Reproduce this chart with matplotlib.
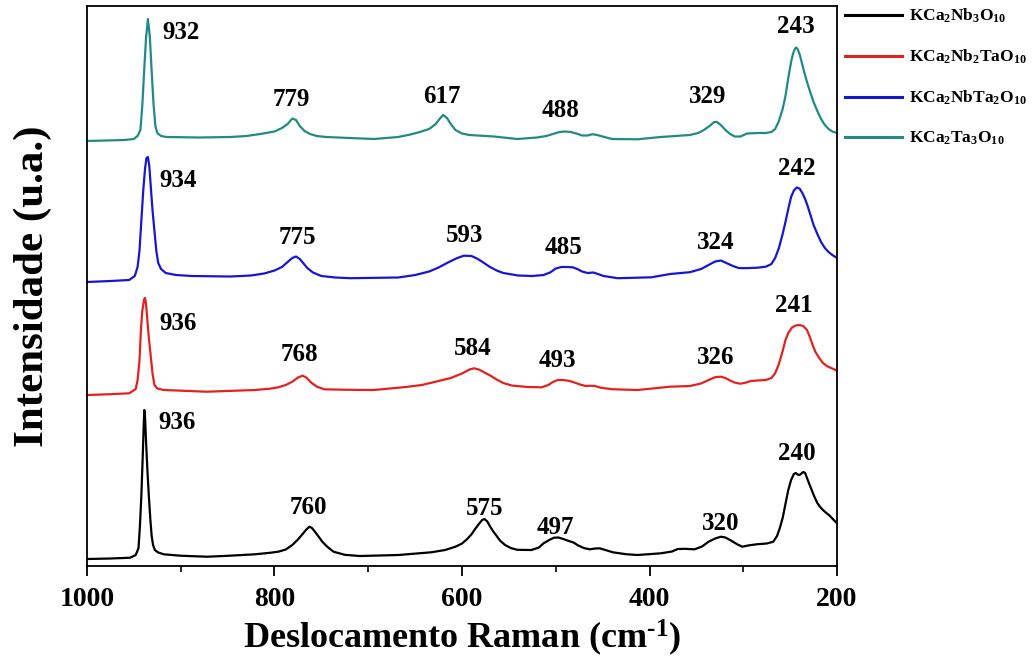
import matplotlib
matplotlib.use("Agg")
import matplotlib.pyplot as plt
from matplotlib.ticker import MultipleLocator

plt.rcParams['font.family'] = ['Liberation Serif', 'DejaVu Serif']
plt.rcParams['font.weight'] = 'bold'
plt.rcParams['mathtext.fontset'] = 'custom'
plt.rcParams['mathtext.rm'] = 'Liberation Serif:bold'
plt.rcParams['mathtext.bf'] = 'Liberation Serif:bold'
plt.rcParams['mathtext.it'] = 'Liberation Serif:bold'
plt.rcParams['mathtext.default'] = 'bf'

# ---- data (Raman shift in cm-1, intensity in arbitrary offset units) ----
wn_ta3 = [1000, 980, 960, 950, 946, 943, 941, 939, 937, 935, 933, 931, 929, 927, 925, 921, 915, 880,
          847, 830, 815, 800, 792, 786, 781, 777, 773, 768, 762, 755, 745, 720, 694, 668, 655, 645,
          635, 628, 624, 620, 616, 612, 607, 600, 592, 566, 541, 520, 510, 503, 496, 490, 484, 478,
          472, 466, 461, 456, 450, 440, 413, 388, 357, 348, 342, 336, 331, 328, 324, 319, 314, 309,
          303, 296, 285, 276, 270, 266, 262, 258, 255, 252, 249, 247, 245, 243.5, 242, 240, 238, 235,
          232, 229, 225, 221, 217, 213, 209, 205, 200]
int_ta3 = [425, 425.5, 426, 427, 430, 436, 460, 495, 528, 547, 530, 495, 462, 440, 433, 430, 429, 428.5,
           429, 430, 432, 434.5, 438, 442, 447.5, 446, 440, 435, 432, 430, 429, 428, 427, 429, 431.5, 434,
           437, 442, 447, 451, 448, 442, 436, 432.5, 431, 429.5, 427, 428.5, 430, 432, 434, 434.5, 434, 432.5,
           430.5, 430.5, 431.8, 431, 429.5, 427, 426.7, 429, 431, 433, 436, 440, 444, 444, 441, 436, 432, 429.5,
           429.5, 432.5, 433, 433, 434, 437, 445, 457, 470, 488, 504, 512, 517, 518.5, 517, 512, 505, 494,
           484, 475, 464, 455, 447, 441, 437, 434.5, 433]

wn_nbta2 = [1000, 975, 955, 949, 946, 944, 942, 940, 938, 936.5, 935, 933.5, 932, 930, 928, 926, 924, 921,
            916, 905, 888, 847, 825, 811, 800, 792, 786, 781, 777, 773, 769, 765, 759, 750, 735, 719,
            668, 650, 635, 625, 615, 605, 598, 590, 584, 578, 571, 563, 556, 540, 525, 513, 506, 500,
            494, 488, 482, 477, 472, 466, 460, 455, 449, 434, 398, 378, 357, 345, 337, 330, 324, 318,
            311, 305, 298, 285, 276, 270, 266, 262, 258, 255, 252, 249, 246, 243, 240, 237, 234, 231,
            228, 225, 221, 217, 213, 209, 205, 200]
int_nbta2 = [284, 285, 286, 290, 299, 315, 345, 375, 398, 408, 409, 400, 380, 355, 335, 315, 303, 297,
             293, 291, 290, 289.5, 290.5, 292.5, 295.5, 299, 304, 308, 309.5, 307, 302.5, 298, 293.5, 290, 288.5, 287.8,
             288.5, 291, 294.5, 298.5, 303.5, 308, 310.3, 310, 307.5, 304, 299.5, 295.5, 293, 290.5, 290, 291, 293.5, 297.5,
             299, 299, 298.7, 297, 294.5, 293, 293.5, 292, 290, 287.8, 288.7, 292, 293.8, 297, 301, 304.5, 305.5, 303,
             300, 298, 297.8, 298.3, 299.3, 302, 308, 318, 332, 344, 357, 369, 375.5, 378.5, 377.5, 373, 367, 359,
             350, 341, 332, 324, 318, 314, 311, 308]

wn_nb2ta = [1000, 975, 955, 948, 946, 944, 942.5, 941, 939, 938, 937, 935.5, 934, 932, 930, 928, 925, 918,
            872, 821, 805, 796, 788, 781, 775, 770, 766, 761, 755, 747, 720, 694, 660, 643, 625, 612,
            600, 592, 587, 582, 576, 570, 563, 556, 547, 530, 515, 508, 503, 498, 492, 486, 480, 474,
            468, 463, 458, 452, 440, 413, 378, 357, 345, 337, 330, 324, 319, 314, 309, 303, 298, 292,
            285, 276, 270, 266, 262, 258, 255, 252, 248, 244, 240, 236, 232, 229, 226, 223, 219, 215,
            210, 205, 200]
int_nb2ta = [171, 171.8, 172.7, 177, 186, 205, 235, 255, 267, 268, 262, 245, 228, 210, 192, 181, 177.5, 176,
             174.3, 176, 177.3, 178.7, 181, 184.3, 188.5, 190.3, 188.5, 183.5, 179.5, 176.7, 176.2, 176, 179, 181, 185, 188,
             192.5, 196.5, 197.7, 196.5, 193.5, 190.5, 186.5, 183, 180.5, 179, 178.7, 181, 184, 186, 186, 185.2, 183.5, 181.5,
             180, 180.3, 180, 178.3, 176.8, 176, 179.3, 180, 182.5, 186, 188.8, 189.3, 188, 185.5, 183.4, 182.3, 183.2, 185,
             185.5, 186, 188, 192.7, 202, 215, 226, 233, 238.5, 240.5, 241, 240, 236, 229, 221, 214, 208, 203,
             199.5, 197.5, 195.3]

wn_nb3 = [1000, 975, 954, 948, 945, 943.5, 942, 940.5, 939.5, 938.8, 938, 937, 935.5, 934, 932.5, 931, 929.5, 927.6,
          924, 918, 900, 872, 850, 821, 805, 796, 788, 781, 775, 770, 766, 762.8, 760, 757, 753, 749,
          744, 737, 725, 709, 668, 633, 618, 607, 600, 595, 590, 586, 582, 578.5, 576, 573, 570, 567,
          563, 559, 554, 548, 541, 526, 518, 513, 507, 502, 497, 492, 486, 481, 476, 470, 464, 458,
          453, 447, 439, 425, 413, 388, 376, 370, 362, 352, 344, 337, 330, 324, 319, 315, 311, 306,
          301, 295, 286, 275, 268, 264, 261, 258, 255, 252, 249, 246, 244, 242, 240, 238, 236, 234,
          232, 230, 227, 224, 221, 218, 215, 212, 208, 204, 200]
int_nb3 = [7, 7.5, 8.3, 11, 18, 40, 70, 110, 140, 156, 148, 125, 95, 70, 48, 30, 21, 16,
           13.5, 11.7, 10.3, 9.3, 10.2, 11.7, 13.2, 14.3, 16.5, 21, 26.5, 32, 36.5, 39.3, 38, 34.5, 29.5, 24.3,
           19.5, 14.3, 11.2, 10, 11, 13.7, 16, 19.3, 22.5, 26.5, 31.5, 37, 42, 46, 47, 44.5, 39.5, 35,
           30, 25, 21, 18, 16.2, 16, 18.5, 22.7, 26, 28.3, 28.5, 27, 25, 23.5, 20.5, 18, 16.7, 17.5,
           17.7, 16, 13.7, 11.8, 11, 12.7, 14.5, 17, 17.2, 16.7, 19.5, 24.3, 27.5, 29.3, 28.5, 26.5, 24.3, 21.5,
           19.3, 20.5, 21.7, 22.5, 24.3, 30, 38, 48, 62, 76, 86, 92, 93, 91.5, 91, 92.5, 94, 93,
           88, 83, 76, 69, 63, 59, 56, 53.5, 50.5, 46.5, 42.7]

series_names = [r'KCa$_2$Nb$_3$O$_{10}$', r'KCa$_2$Nb$_2$TaO$_{10}$',
                r'KCa$_2$NbTa$_2$O$_{10}$', r'KCa$_2$Ta$_3$O$_{10}$']
series_colors = ['#000000', '#e3221f', '#1717d2', '#218a87']

# peak labels: text, x (cm-1), y
lab_nb3 = [('936', 904, 144), ('760', 764, 59), ('575', 576, 58), ('497', 500, 39), ('320', 324, 43), ('240', 243, 113)]
lab_nb2ta = [('936', 903, 243), ('768', 773, 212), ('584', 589, 218), ('493', 498, 206), ('326', 329, 209), ('241', 246, 261)]
lab_nbta2 = [('934', 903, 386), ('775', 776, 329), ('593', 597, 331), ('485', 492, 319), ('324', 329, 324), ('242', 243, 398)]
lab_ta3 = [('932', 900, 533), ('779', 782, 466), ('617', 621, 469), ('488', 495, 456), ('329', 338, 469), ('243', 244, 539)]

fig = plt.figure(figsize=(10.34, 6.59), dpi=100)
ax = fig.add_axes([0.0841, 0.1411, 0.7254, 0.8498])

data = [(wn_nb3, int_nb3), (wn_nb2ta, int_nb2ta), (wn_nbta2, int_nbta2), (wn_ta3, int_ta3)]
for (x, y), name, c in zip(data, series_names, series_colors):
    ax.plot(x, y, color=c, lw=1.6, label=name, solid_joinstyle='round')

for labs in (lab_nb3, lab_nb2ta, lab_nbta2, lab_ta3):
    for t, x, y in labs:
        ax.text(x, y, t, ha='center', va='center', fontsize=18, fontweight='bold')

ax.set_xlim(1000, 200)
ax.set_ylim(0, 560)
ax.set_yticks([])
ax.xaxis.set_major_locator(MultipleLocator(200))
ax.xaxis.set_minor_locator(MultipleLocator(100))
ax.tick_params(axis='x', which='major', direction='out', length=7, width=1.3, labelsize=20, pad=8)
ax.tick_params(axis='x', which='minor', direction='out', length=4, width=1.2)
for s in ax.spines.values():
    s.set_linewidth(1.3)

ax.set_xlabel(r'Deslocamento Raman (cm$^{\text{-}1}$)', fontsize=26, fontweight='bold', labelpad=4)
ax.set_ylabel('Intensidade (u.a.)', fontsize=31, fontweight='bold', labelpad=25)

leg = ax.legend(loc='upper left', bbox_to_anchor=(0.8104, 1.0), bbox_transform=fig.transFigure,
                frameon=False, fontsize=12.5, handlelength=3.3, handletextpad=0.4,
                labelspacing=1.3, borderaxespad=0.0)
for h in leg.get_lines():
    h.set_linewidth(2.2)

fig.savefig('out.png', dpi=100)
